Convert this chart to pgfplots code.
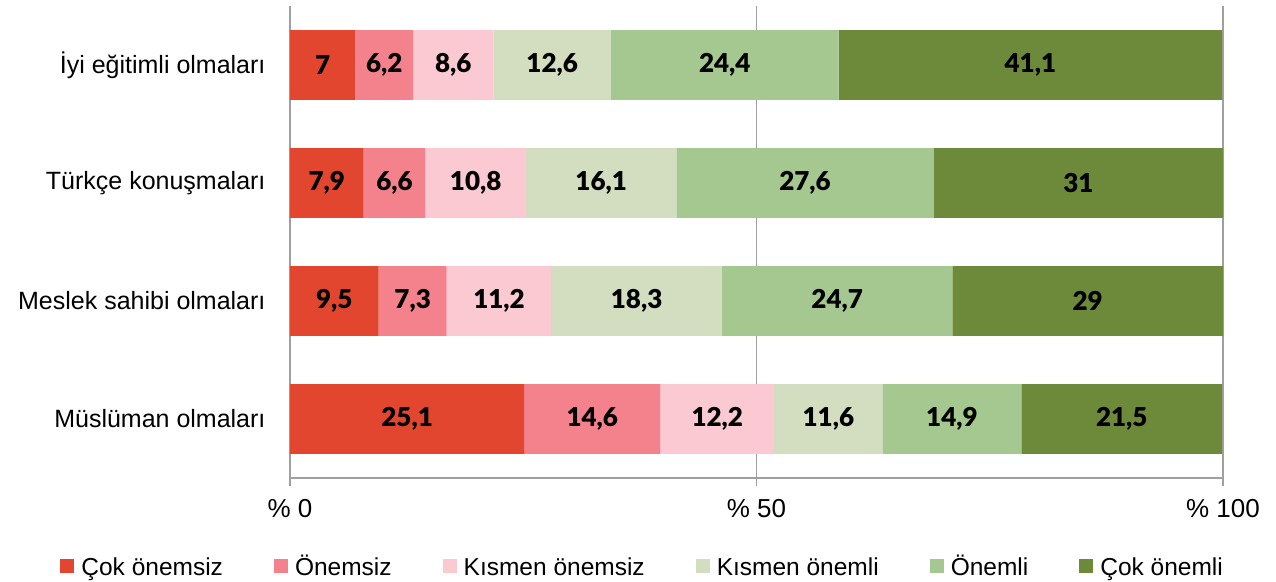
\documentclass[border=0pt]{standalone}
\usepackage{fontspec}
\setmainfont{Liberation Sans}
\newfontfamily\numfont{Lato}[UprightFont=* Black]
\usepackage{pgfplots}
\pgfplotsset{compat=1.18}
\definecolor{c1}{HTML}{E2462F}
\definecolor{c2}{HTML}{F4828D}
\definecolor{c3}{HTML}{FBC9D1}
\definecolor{c4}{HTML}{D3DDBF}
\definecolor{c5}{HTML}{A4C88F}
\definecolor{c6}{HTML}{6C8A3A}
\definecolor{axgray}{HTML}{A0A0A0}
\newcommand{\ls}{\rule[-6bp]{0pt}{26bp}}
\begin{document}
\begin{tikzpicture}
\begin{axis}[
  at={(0,0)}, anchor=south west,
  scale only axis, width=933bp, height=472bp,
  xbar stacked, bar width=0.593,
  xmin=0, xmax=100, ymin=-0.5, ymax=3.5,
  axis x line*=bottom, axis y line*=left,
  axis line style={axgray, line width=1.2bp},
  xtick={0,50,100}, xticklabels={\% 0,\% 50,\% 100},
  x tick label style={font=\fontsize{26bp}{28bp}\selectfont, yshift=-10bp},
  xtick style={axgray, line width=1.2bp},
  tick align=outside, major tick length=8bp,
  xmajorgrids, grid style={axgray, line width=1.2bp},
  ytick={0,1,2,3},
  yticklabels={Müslüman olmaları,Meslek sahibi olmaları,Türkçe konuşmaları,İyi eğitimli olmaları},
  y tick label style={font=\fontsize{25bp}{28bp}\selectfont, xshift=-13bp},
  ytick style={draw=none},
  minor ytick={-0.5,0.5,1.5,2.5,3.5},
  minor tick style={axgray, line width=1.2bp},
  minor tick length=8bp,
  legend columns=6,
  legend style={at={(0.378,-0.1864)}, anchor=center, draw=none, fill=none,
    font=\fontsize{24.5bp}{27bp}\selectfont,
    /tikz/every odd column/.append style={column sep=5bp},
    /tikz/every even column/.append style={column sep=49bp}},
  legend image code/.code={\fill[#1] (0bp,-7bp) rectangle (14bp,7bp);},
  legend cell align=left,
  clip=false,
]
\addplot[fill=c1, draw=none] coordinates {(25.1,0) (9.5,1) (7.9,2) (7,3)};
\addplot[fill=c2, draw=none] coordinates {(14.6,0) (7.3,1) (6.6,2) (6.2,3)};
\addplot[fill=c3, draw=none] coordinates {(12.2,0) (11.2,1) (10.8,2) (8.6,3)};
\addplot[fill=c4, draw=none] coordinates {(11.6,0) (18.3,1) (16.1,2) (12.6,3)};
\addplot[fill=c5, draw=none] coordinates {(14.9,0) (24.7,1) (27.6,2) (24.4,3)};
\addplot[fill=c6, draw=none] coordinates {(21.5,0) (29,1) (31,2) (41.1,3)};
\legend{\ls Çok önemsiz,\ls Önemsiz,\ls Kısmen önemsiz,\ls Kısmen önemli,\ls Önemli,\ls Çok önemli}
\end{axis}
\begin{axis}[
  at={(0,0)}, anchor=south west,
  scale only axis, width=933bp, height=472bp,
  xmin=0, xmax=100, ymin=-0.5, ymax=3.5,
  hide axis, clip=false,
]
\addplot[only marks, mark=none, point meta=explicit symbolic,
  nodes near coords, nodes near coords align=center,
  every node near coord/.append style={font=\numfont\fontsize{26bp}{28bp}\selectfont, anchor=center, inner sep=0pt}]
 coordinates {
  (3.5,3) [7] (10.1,3) [6,2] (17.5,3) [8,6] (28.1,3) [12,6] (46.6,3) [24,4] (79.35,3) [41,1]
  (3.95,2) [7,9] (11.2,2) [6,6] (19.9,2) [10,8] (33.35,2) [16,1] (55.2,2) [27,6] (84.5,2) [31]
  (4.75,1) [9,5] (13.15,1) [7,3] (22.4,1) [11,2] (37.15,1) [18,3] (58.65,1) [24,7] (85.5,1) [29]
  (12.55,0) [25,1] (32.4,0) [14,6] (45.8,0) [12,2] (57.7,0) [11,6] (70.95,0) [14,9] (89.15,0) [21,5]
 };
\end{axis}
\pgfresetboundingbox
\path (-290bp,-104bp) rectangle (986bp,478bp);
\end{tikzpicture}
\end{document}
